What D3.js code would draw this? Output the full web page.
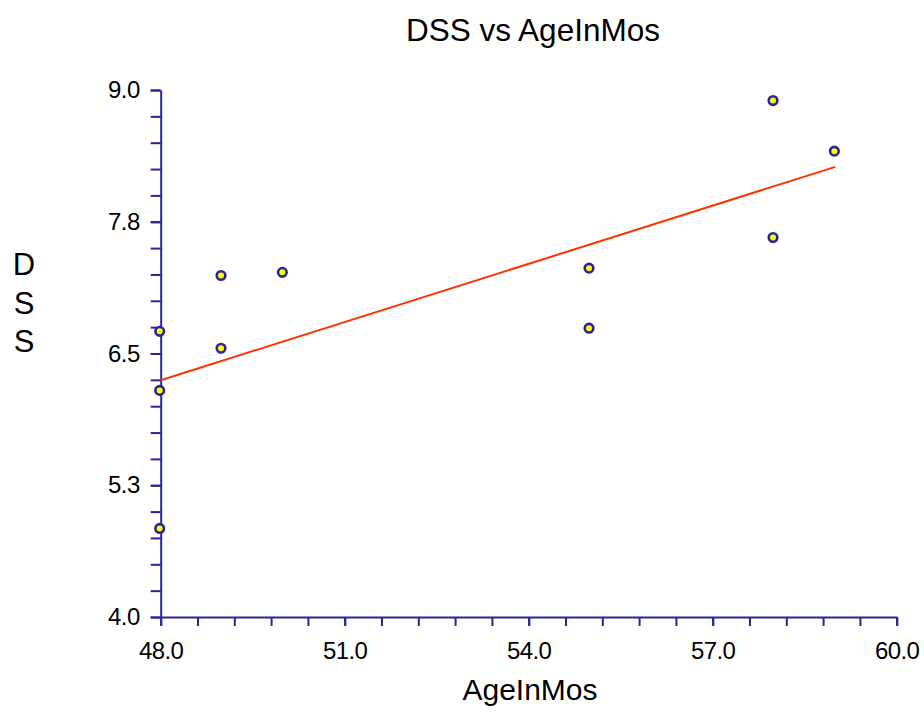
<!DOCTYPE html>
<html>
<head>
<meta charset="utf-8">
<script src="https://cdn.jsdelivr.net/npm/d3@7"></script>
<style>
  html, body { margin: 0; padding: 0; background: #fff; }
  text { font-family: "Liberation Sans", Arial, sans-serif; fill: #000; }
</style>
</head>
<body>
<svg id="chart" width="924" height="714"></svg>
<script>
// ---- data ----
const ageInMos = [48, 48, 48, 49, 49, 50, 55, 55, 58, 58, 59];
const dss      = [6.71, 6.15, 4.84, 7.24, 6.55, 7.27, 7.31, 6.74, 8.90, 7.60, 8.42];
const xTickValues = [48, 51, 54, 57, 60];
const xTickLabels = ["48.0", "51.0", "54.0", "57.0", "60.0"];
const yTickValues = [4.0, 5.25, 6.5, 7.75, 9.0];
const yTickLabels = ["4.0", "5.3", "6.5", "7.8", "9.0"];
const chartTitle = "DSS vs AgeInMos";
const xTitle = "AgeInMos";
const yTitle = "DSS";

// ---- layout ----
const svg = d3.select("#chart");
const mLeft = 160.7, mRight = 896.7, mTop = 90, mBottom = 617;
const axisColor = "#26269a";

const x = d3.scaleLinear().domain([48, 60]).range([mLeft, mRight]);
const y = d3.scaleLinear().domain([4, 9]).range([mBottom, mTop]);

const xMinor = d3.range(0, 21).map(i => 48 + i * 0.6);
const yMinor = d3.range(0, 21).map(i => 4 + i * 0.25);

// minor ticks
svg.append("g").attr("transform", `translate(0,${mBottom})`)
  .call(d3.axisBottom(x).tickValues(xMinor).tickFormat("").tickSize(9).tickSizeOuter(0))
  .call(g => g.select(".domain").remove());
svg.append("g").attr("transform", `translate(${mLeft},0)`)
  .call(d3.axisLeft(y).tickValues(yMinor).tickFormat("").tickSize(10).tickSizeOuter(0))
  .call(g => g.select(".domain").remove());

// major axes with labels
const xAxis = svg.append("g").attr("transform", `translate(0,${mBottom})`)
  .call(d3.axisBottom(x).tickValues(xTickValues)
    .tickFormat((d, i) => xTickLabels[i]).tickSize(9).tickPadding(16).tickSizeOuter(0));
const yAxis = svg.append("g").attr("transform", `translate(${mLeft},0)`)
  .call(d3.axisLeft(y).tickValues(yTickValues)
    .tickFormat((d, i) => yTickLabels[i]).tickSize(10).tickPadding(11).tickSizeOuter(0));

[xAxis, yAxis].forEach(g => {
  g.selectAll("text").style("font-size", "24px").style("fill", "#000")
    .style("letter-spacing", "-0.6px")
    .style("font-family", "'Liberation Sans', Arial, sans-serif");
});
svg.selectAll(".tick line").attr("stroke", axisColor).attr("stroke-width", 2);
svg.selectAll(".domain").attr("stroke", axisColor).attr("stroke-width", 2);

// regression line (least squares from data)
const n = ageInMos.length;
const mx = d3.mean(ageInMos), my = d3.mean(dss);
let sxy = 0, sxx = 0;
for (let i = 0; i < n; i++) {
  sxy += (ageInMos[i] - mx) * (dss[i] - my);
  sxx += (ageInMos[i] - mx) ** 2;
}
const slope = sxy / sxx, intercept = my - slope * mx;
const [xmin, xmax] = d3.extent(ageInMos);
const fit = [xmin, xmax].map(v => [v, intercept + slope * v]);
svg.append("path")
  .attr("d", d3.line().x(d => x(d[0])).y(d => y(d[1]))(fit))
  .attr("stroke", "#ff3300").attr("stroke-width", 2).attr("fill", "none");

// points
svg.append("g").selectAll("circle")
  .data(ageInMos.map((a, i) => [a, dss[i]]))
  .join("circle")
  .attr("cx", d => x(d[0]) - 1)
  .attr("cy", d => y(d[1]))
  .attr("r", 4.3)
  .attr("fill", "#ffff00")
  .attr("stroke", axisColor)
  .attr("stroke-width", 2.6);

// titles
svg.append("text").attr("x", 533).attr("y", 41)
  .attr("text-anchor", "middle").style("font-size", "31.5px").text(chartTitle);
svg.append("text").attr("x", 530).attr("y", 700)
  .attr("text-anchor", "middle").style("font-size", "30px").text(xTitle);
const yt = svg.append("text").attr("text-anchor", "middle").style("font-size", "31px");
yTitle.split("").forEach((ch, i) => {
  yt.append("tspan").attr("x", 24).attr("y", 275 + i * 38.5).text(ch);
});
</script>
</body>
</html>
